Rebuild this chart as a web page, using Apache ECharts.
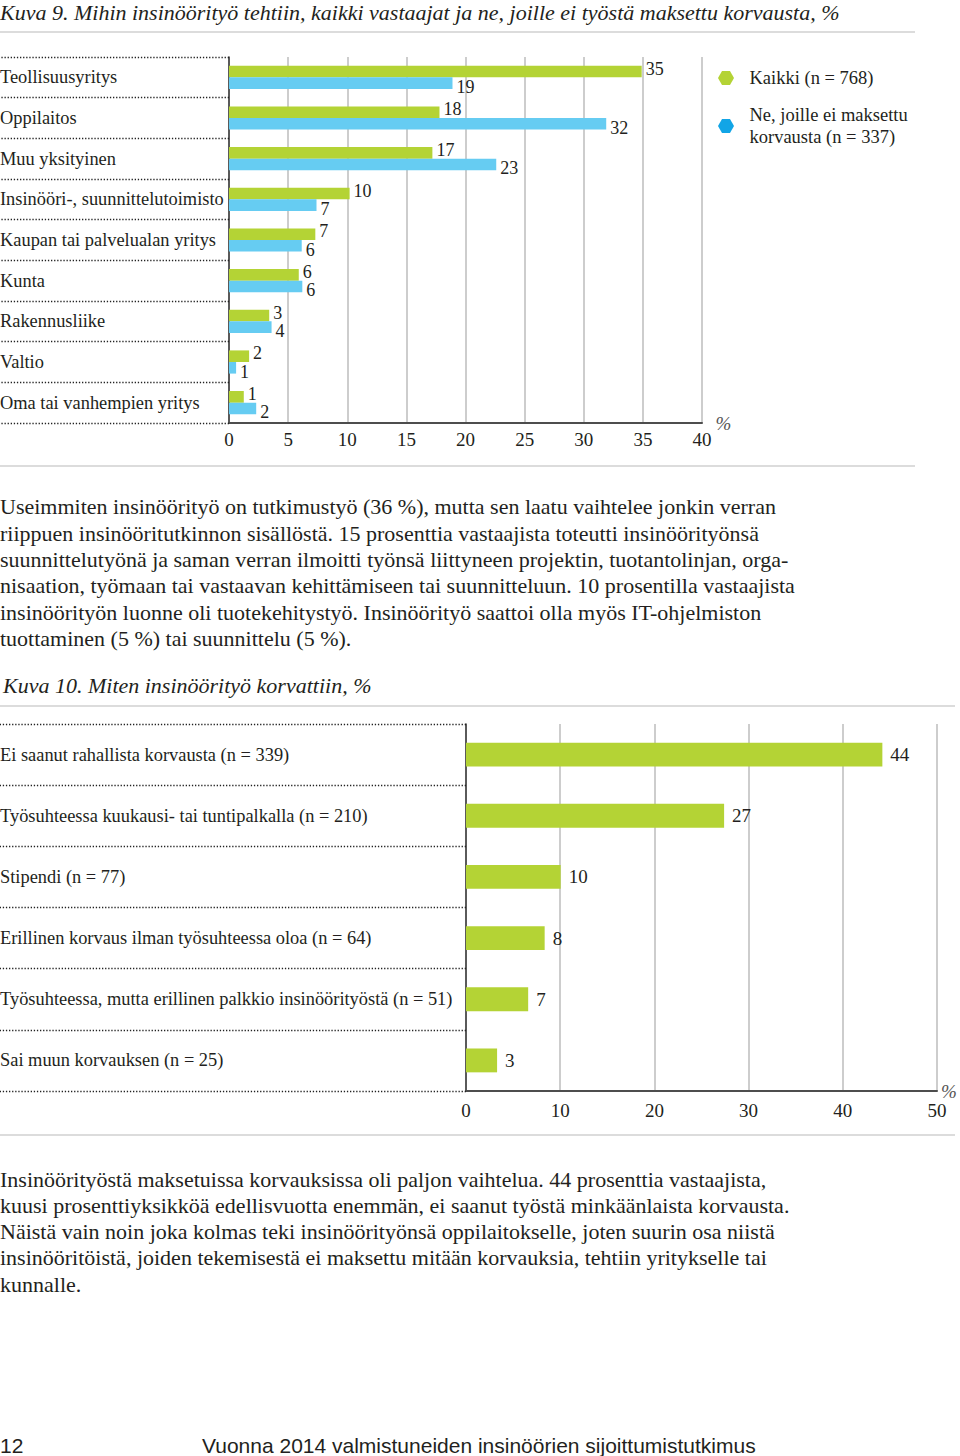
<!DOCTYPE html>
<html>
<head>
<meta charset="utf-8">
<script src="https://cdn.jsdelivr.net/npm/echarts@6/dist/echarts.min.js"></script>
<style>
html,body{margin:0;padding:0;background:#fff;}
#c{width:960px;height:1456px;}
</style>
</head>
<body>
<div id="c"></div>
<script>
// ---- Data: Kuva 9 ----
const workplaceCategories = [
  'Teollisuusyritys', 'Oppilaitos', 'Muu yksityinen',
  'Insinööri-, suunnittelutoimisto', 'Kaupan tai palvelualan yritys',
  'Kunta', 'Rakennusliike', 'Valtio', 'Oma tai vanhempien yritys'
];
const kaikkiValues = [34.9, 17.8, 17.2, 10.2, 7.3, 5.9, 3.4, 1.7, 1.25];
const eiMaksettuValues = [18.9, 31.9, 22.6, 7.4, 6.15, 6.2, 3.6, 0.6, 2.3];
const seriesNames = ['Kaikki (n = 768)', 'Ne, joille ei maksettu\nkorvausta (n = 337)'];
const xTicks9 = [0, 5, 10, 15, 20, 25, 30, 35, 40];

// ---- Data: Kuva 10 ----
const compensationCategories = [
  'Ei saanut rahallista korvausta (n = 339)',
  'Työsuhteessa kuukausi- tai tuntipalkalla (n = 210)',
  'Stipendi (n = 77)',
  'Erillinen korvaus ilman työsuhteessa oloa (n = 64)',
  'Työsuhteessa, mutta erillinen palkkio insinöörityöstä (n = 51)',
  'Sai muun korvauksen (n = 25)'
];
const compensationValues = [44.2, 27.4, 10.05, 8.35, 6.6, 3.3];
const xTicks10 = [0, 10, 20, 30, 40, 50];

// ---- Texts ----
const title9 = 'Kuva 9. Mihin insinöörityö tehtiin, kaikki vastaajat ja ne, joille ei työstä maksettu korvausta, %';
const title10 = 'Kuva 10. Miten insinöörityö korvattiin, %';
const paragraph1 = [
  'Useimmiten insinöörityö on tutkimustyö (36 %), mutta sen laatu vaihtelee jonkin verran',
  'riippuen insinööritutkinnon sisällöstä. 15 prosenttia vastaajista toteutti insinöörityönsä',
  'suunnittelutyönä ja saman verran ilmoitti työnsä liittyneen projektin, tuotantolinjan, orga-',
  'nisaation, työmaan tai vastaavan kehittämiseen tai suunnitteluun. 10 prosentilla vastaajista',
  'insinöörityön luonne oli tuotekehitystyö. Insinöörityö saattoi olla myös IT-ohjelmiston',
  'tuottaminen (5 %) tai suunnittelu (5 %).'
];
const paragraph2 = [
  'Insinöörityöstä maksetuissa korvauksissa oli paljon vaihtelua. 44 prosenttia vastaajista,',
  'kuusi prosenttiyksikköä edellisvuotta enemmän, ei saanut työstä minkäänlaista korvausta.',
  'Näistä vain noin joka kolmas teki insinöörityönsä oppilaitokselle, joten suurin osa niistä',
  'insinööritöistä, joiden tekemisestä ei maksettu mitään korvauksia, tehtiin yritykselle tai',
  'kunnalle.'
];
const footerPage = '12';
const footerText = 'Vuonna 2014 valmistuneiden insinöörien sijoittumistutkimus';

// ---- Styling ----
const SERIF = '"Liberation Serif", "Times New Roman", serif';
const SANS = '"Liberation Sans", Arial, sans-serif';
const GREEN = '#b4d335';
const BLUE = '#66ccf2';
const BLUE_LEGEND = '#12a5e6';
const GRID_COLOR = '#cdcdcd';
const TEXT = '#231f20';
const HEX = 'path://M0,7 L4,0 L12,0 L16,7 L12,14 L4,14 Z';

const round = p => String(Math.round(p.value));

function hline(y, x1, x2) {
  return { type: 'line', shape: { x1: x1, y1: y, x2: x2, y2: y },
           style: { stroke: '#dcdcdc', lineWidth: 2 }, silent: true };
}
function txt(x, top, str, font, lh) {
  return { type: 'text', x: x, y: top,
           style: { text: str, font: font, fill: TEXT, lineHeight: lh, verticalAlign: 'top', align: 'left' } };
}

const chart = echarts.init(document.getElementById('c'), null, { renderer: 'svg', width: 960, height: 1456 });

const xAxisCommon = (max, interval, nameGap, margin) => ({
  type: 'value', min: 0, max: max, interval: interval,
  name: '%', nameLocation: 'end', nameGap: nameGap,
  nameTextStyle: { fontFamily: SERIF, fontStyle: 'italic', fontSize: 19, color: '#555', verticalAlign: 'middle' },
  axisLine: { show: true, lineStyle: { color: '#4d4d4d', width: 2 } },
  axisTick: { show: false },
  splitLine: { show: true, lineStyle: { color: GRID_COLOR, width: 2 } },
  axisLabel: { fontFamily: SERIF, fontSize: 19, color: TEXT, margin: margin }
});

const yAxisCommon = (cats, width) => ({
  type: 'category', data: cats, inverse: true,
  axisLine: { show: true, lineStyle: { color: '#333', width: 1.5 } },
  axisTick: { show: true, length: width, interval: 0, lineStyle: { color: '#222', width: 1.3, type: [1.3, 1.8] } },
  axisLabel: { interval: 0, align: 'left', margin: width, fontFamily: SERIF, fontSize: 18.4, color: TEXT }
});

const valueLabel = (dist, offset, size) => ({
  show: true, position: 'right', distance: dist, offset: offset, formatter: round,
  fontFamily: SERIF, fontSize: size, lineHeight: 14, color: TEXT
});

const option = {
  animation: false,
  backgroundColor: '#fff',
  grid: [
    { left: 229, top: 57, width: 473, height: 366, containLabel: false, outerBoundsMode: 'none' },
    { left: 466, top: 724, width: 471, height: 367, containLabel: false, outerBoundsMode: 'none' }
  ],
  xAxis: [
    Object.assign(xAxisCommon(40, 5, 8, 7), { gridIndex: 0 }),
    Object.assign(xAxisCommon(50, 10, 4, 10), { gridIndex: 1 })
  ],
  yAxis: [
    Object.assign(yAxisCommon(workplaceCategories, 229), { gridIndex: 0 }),
    Object.assign(yAxisCommon(compensationCategories, 466), { gridIndex: 1 })
  ],
  legend: [
    { left: 718, top: 67, padding: 0, itemWidth: 17, itemHeight: 14, icon: HEX,
      data: [{ name: seriesNames[0], itemStyle: { color: GREEN } }],
      textStyle: { fontFamily: SERIF, fontSize: 18.5, color: TEXT, padding: [0, 0, 0, 10], lineHeight: 22 } },
    { left: 718, top: 104, padding: 0, itemWidth: 17, itemHeight: 14, icon: HEX,
      data: [{ name: seriesNames[1], itemStyle: { color: BLUE_LEGEND } }],
      textStyle: { fontFamily: SERIF, fontSize: 18.5, color: TEXT, padding: [0, 0, 0, 10], lineHeight: 22 } }
  ],
  series: [
    { name: seriesNames[0], type: 'bar', xAxisIndex: 0, yAxisIndex: 0, data: kaikkiValues,
      barGap: '0%', barCategoryGap: '43%', itemStyle: { color: GREEN },
      label: valueLabel(4, [0, -3], 18) },
    { name: seriesNames[1], type: 'bar', xAxisIndex: 0, yAxisIndex: 0, data: eiMaksettuValues,
      barGap: '0%', barCategoryGap: '43%', itemStyle: { color: BLUE },
      label: valueLabel(4, [0, 4], 18) },
    { name: 'Korvaus', type: 'bar', xAxisIndex: 1, yAxisIndex: 1, data: compensationValues,
      barCategoryGap: '61%', itemStyle: { color: GREEN },
      label: valueLabel(8, [0, 0], 19) }
  ],
  graphic: [
    txt(0, 0, title9, 'italic 22px ' + SERIF, 24),
    hline(32, 0, 915),
    hline(466, 0, 915),
    txt(0, 493.85, paragraph1.join('\n'), '22px ' + SERIF, 26.3),
    txt(3, 673, title10, 'italic 22px ' + SERIF, 24),
    hline(706, 0, 955),
    hline(1135, 0, 955),
    txt(0, 1165.9, paragraph2.join('\n'), '22px ' + SERIF, 26.25),
    txt(0, 1432, footerPage, '21px ' + SANS, 26),
    txt(202, 1432, footerText, '21px ' + SANS, 26)
  ]
};
chart.setOption(option);
</script>
</body>
</html>
